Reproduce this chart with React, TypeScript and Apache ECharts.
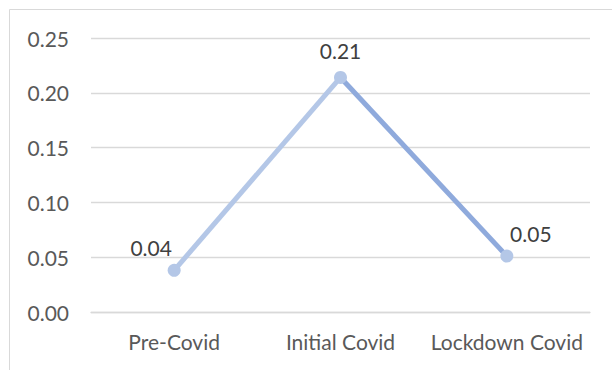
import React, { useEffect, useRef } from "react";
import * as echarts from "echarts";

const categories = ["Pre-Covid", "Initial Covid", "Lockdown Covid"];
const values = [0.038, 0.214, 0.051];
const yTicks = { min: 0, max: 0.25, interval: 0.05 };

const TEXT = "#595959";
const GRID = "#d9d9d9";
const LIGHT = "#b4c7e7";
const DARK = "#8faadc";
const FONT = "Lato";
const FONT_SIZE = 21;

// label offsets around each marker: left-above, above, right-above
const labelOffsets: [number, number][] = [
  [-23, -23],
  [0, -27],
  [24, -23],
];

export default function App() {
  const ref = useRef<HTMLDivElement>(null);

  useEffect(() => {
    if (!ref.current) return;
    const chart = echarts.init(ref.current, undefined, { renderer: "svg" });

    const rising = values.map((v, i) => (i <= 1 ? v : null));
    const falling = values.map((v, i) => (i >= 1 ? v : null));

    chart.setOption({
      animation: false,
      backgroundColor: "#ffffff",
      textStyle: { fontFamily: FONT },
      grid: { left: 91, right: 22, top: 38, bottom: 58 },
      graphic: [
        {
          type: "line",
          shape: { x1: 9.5, y1: 9.5, x2: 612, y2: 9.5 },
          style: { stroke: GRID, lineWidth: 1 },
        },
        {
          type: "line",
          shape: { x1: 9.5, y1: 9.5, x2: 9.5, y2: 370 },
          style: { stroke: GRID, lineWidth: 1 },
        },
      ],
      xAxis: {
        type: "category",
        data: categories,
        boundaryGap: true,
        axisLine: { show: true, lineStyle: { color: GRID, width: 1.3 } },
        axisTick: { show: false },
        axisLabel: {
          color: TEXT,
          fontSize: FONT_SIZE,
          fontFamily: FONT,
          margin: 19,
          interval: 0,
          hideOverlap: false,
        },
      },
      yAxis: {
        type: "value",
        min: yTicks.min,
        max: yTicks.max,
        interval: yTicks.interval,
        axisLine: { show: false },
        axisTick: { show: false },
        splitLine: { lineStyle: { color: GRID, width: 1.3 } },
        axisLabel: {
          color: TEXT,
          fontSize: FONT_SIZE,
          fontFamily: FONT,
          margin: 22,
          formatter: (v: number) => v.toFixed(2),
        },
      },
      series: [
        {
          type: "line",
          data: rising,
          showSymbol: false,
          lineStyle: { color: LIGHT, width: 5 },
          z: 2,
        },
        {
          type: "line",
          data: falling,
          showSymbol: false,
          lineStyle: { color: DARK, width: 5 },
          z: 2,
        },
        {
          type: "line",
          data: values.map((v, i) => ({
            value: v,
            label: {
              show: true,
              position: "inside",
              offset: labelOffsets[i],
              formatter: (p: any) => Number(p.value).toFixed(2),
              color: "#404040",
              fontSize: FONT_SIZE,
              fontFamily: FONT,
            },
          })),
          symbol: "circle",
          symbolSize: 13,
          itemStyle: { color: LIGHT },
          lineStyle: { opacity: 0, width: 0 },
          z: 3,
        },
      ],
    });

    return () => chart.dispose();
  }, []);

  return (
    <div
      ref={ref}
      style={{ position: "fixed", left: 0, top: 0, width: 612, height: 370 }}
    />
  );
}
